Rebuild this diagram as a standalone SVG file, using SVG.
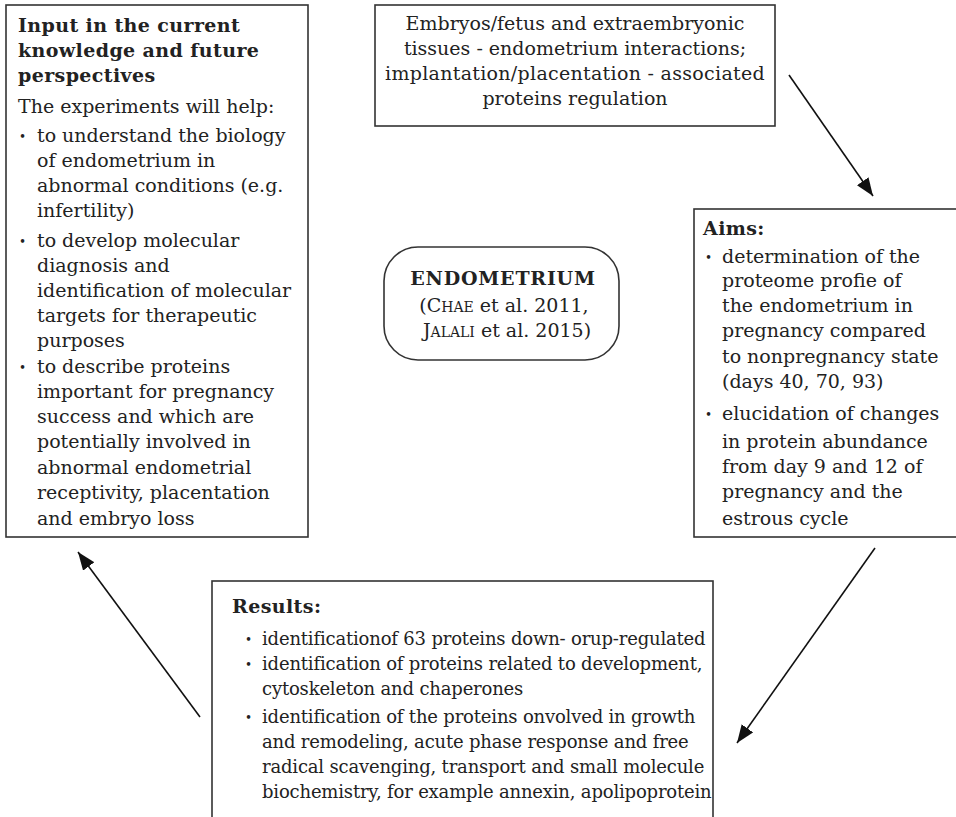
<svg xmlns="http://www.w3.org/2000/svg" width="956" height="817" viewBox="0 0 956 817">
<defs>
<style>
.box{fill:#fff;stroke:#333;stroke-width:1.6}
text{font-family:"DejaVu Serif","Liberation Serif",serif;font-size:19px;fill:#222}
.b{font-weight:bold;letter-spacing:0.4px}
.c{text-anchor:middle}
.bul{font-size:12px}
.sc{font-size:14px}
.r{font-size:18px;letter-spacing:-0.18px}
.conn{stroke:#111;stroke-width:1.6;fill:none;marker-end:url(#ah)}
</style>
<marker id="ah" markerUnits="userSpaceOnUse" markerWidth="20" markerHeight="16" refX="18" refY="7" orient="auto">
<path d="M0,0 L18,7 L0,14 z" fill="#111"/>
</marker>
</defs>
<rect width="956" height="817" fill="#fff"/>

<g id="input-box">
<rect class="box" x="6" y="5" width="302" height="532"/>
<text class="b" x="18" y="32">Input in the current</text>
<text class="b" x="18" y="57">knowledge and future</text>
<text class="b" x="18" y="82">perspectives</text>
<text x="18" y="113">The experiments will help:</text>
<text class="bul" x="19" y="141">•</text>
<text x="37" y="142">to understand the biology</text>
<text x="37" y="167">of endometrium in</text>
<text x="37" y="192">abnormal conditions (e.g.</text>
<text x="37" y="217">infertility)</text>
<text class="bul" x="19" y="246">•</text>
<text x="37" y="247">to develop molecular</text>
<text x="37" y="272">diagnosis and</text>
<text x="37" y="297">identification of molecular</text>
<text x="37" y="322">targets for therapeutic</text>
<text x="37" y="347">purposes</text>
<text class="bul" x="19" y="372">•</text>
<text x="37" y="373">to describe proteins</text>
<text x="37" y="398">important for pregnancy</text>
<text x="37" y="423">success and which are</text>
<text x="37" y="448">potentially involved in</text>
<text x="37" y="474">abnormal endometrial</text>
<text x="37" y="499">receptivity, placentation</text>
<text x="37" y="525">and embryo loss</text>
</g>

<g id="embryo-box">
<rect class="box" x="375" y="5" width="400" height="121"/>
<text class="c" x="575" y="30">Embryos/fetus and extraembryonic</text>
<text class="c" x="575" y="55">tissues - endometrium interactions;</text>
<text class="c" x="575" y="80" style="letter-spacing:0.3px">implantation/placentation - associated</text>
<text class="c" x="575" y="105">proteins regulation</text>
</g>

<g id="endometrium">
<rect class="box" x="384" y="247" width="235" height="113" rx="34" ry="34"/>
<text class="c b" x="503" y="285" style="letter-spacing:0.8px">ENDOMETRIUM</text>
<text class="c" x="504" y="312">(C<tspan class="sc">HAE</tspan> et al. 2011,</text>
<text class="c" x="507" y="337">J<tspan class="sc">ALALI</tspan> et al. 2015)</text>
</g>

<g id="aims-box">
<rect class="box" x="694" y="209" width="270" height="328"/>
<text class="b" x="703" y="235">Aims:</text>
<text class="bul" x="705" y="262">•</text>
<text x="722" y="263">determination of the</text>
<text x="722" y="287">proteome profie of</text>
<text x="722" y="312">the endometrium in</text>
<text x="722" y="337">pregnancy compared</text>
<text x="722" y="363">to nonpregnancy state</text>
<text x="722" y="388">(days 40, 70, 93)</text>
<text class="bul" x="705" y="419">•</text>
<text x="722" y="420">elucidation of changes</text>
<text x="722" y="448">in protein abundance</text>
<text x="722" y="473">from day 9 and 12 of</text>
<text x="722" y="498">pregnancy and the</text>
<text x="722" y="525">estrous cycle</text>
</g>

<g id="results-box">
<rect class="box" x="212" y="581" width="501" height="260"/>
<text class="b" x="232" y="613">Results:</text>
<text class="bul" x="245" y="644">•</text>
<text class="r" x="262" y="645">identificationof 63 proteins down- orup-regulated</text>
<text class="bul" x="245" y="669">•</text>
<text class="r" x="262" y="670">identification of proteins related to development,</text>
<text class="r" x="262" y="695">cytoskeleton and chaperones</text>
<text class="bul" x="245" y="722">•</text>
<text class="r" x="262" y="723">identification of the proteins onvolved in growth</text>
<text class="r" x="262" y="748">and remodeling, acute phase response and free</text>
<text class="r" x="262" y="773">radical scavenging, transport and small molecule</text>
<text class="r" x="262" y="798">biochemistry, for example annexin, apolipoprotein</text>
</g>

<g id="connectors">
<line class="conn" x1="789" y1="75" x2="873" y2="196"/>
<line class="conn" x1="875" y1="548" x2="737" y2="743"/>
<line class="conn" x1="200" y1="717" x2="78" y2="552"/>
</g>
</svg>
